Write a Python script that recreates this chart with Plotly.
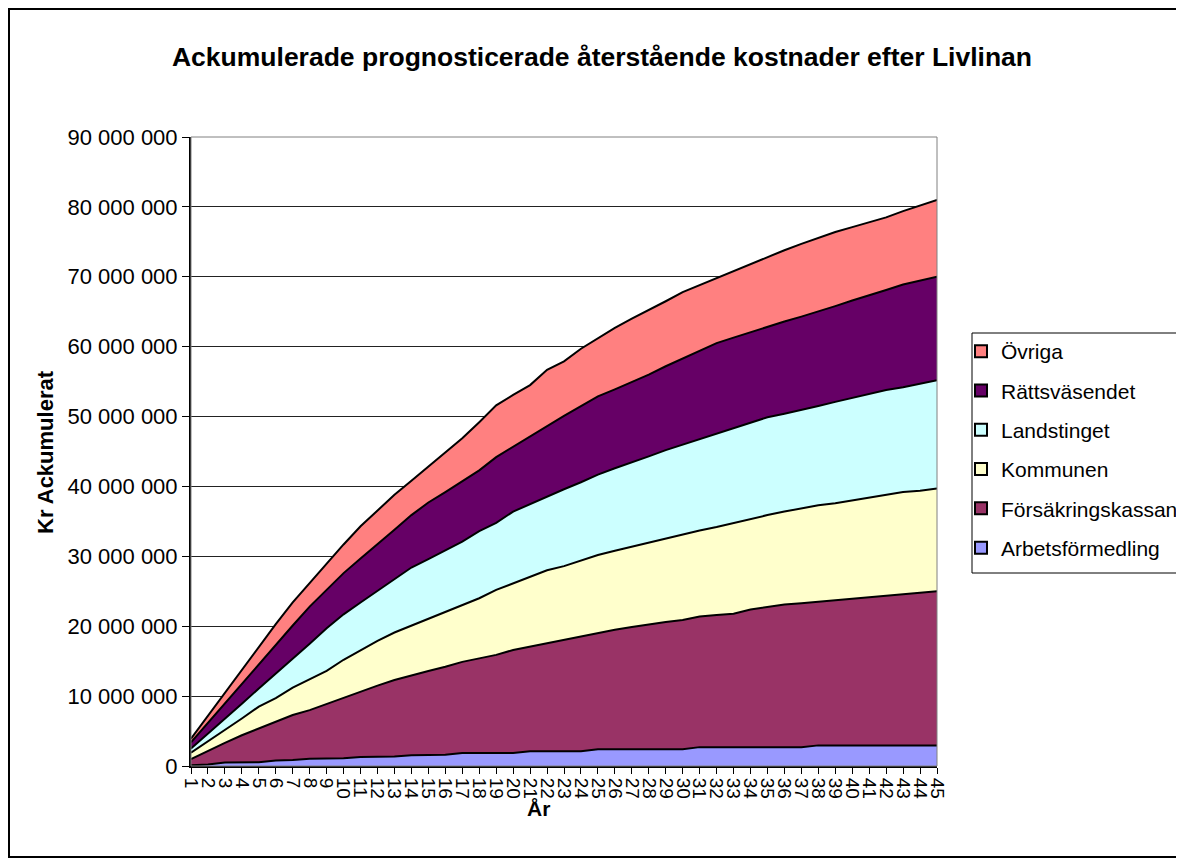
import plotly.graph_objects as go

# År 1..45, kostnader i miljoner kr (läst ur diagrammet, per kategori)
years = list(range(1, 46))

arbetsformedling = [0.1, 0.2, 0.5, 0.5, 0.55, 0.8, 0.85, 1.05, 1.1, 1.1,
                    1.3, 1.35, 1.35, 1.55, 1.6, 1.6, 1.85, 1.85, 1.85, 1.85,
                    2.1, 2.1, 2.1, 2.1, 2.4, 2.4, 2.4, 2.4, 2.4, 2.4,
                    2.7, 2.7, 2.7, 2.7, 2.7, 2.7, 2.7, 2.95, 2.95, 2.95,
                    2.95, 2.95, 2.95, 2.95, 2.95]
forsakringskassan = [0.9, 2.0, 2.8, 3.9, 4.85, 5.5, 6.45, 6.95, 7.8, 8.7,
                     9.4, 10.15, 10.95, 11.45, 12.0, 12.6, 13.05, 13.55, 14.05, 14.75,
                     15.0, 15.5, 15.9, 16.4, 16.6, 17.1, 17.5, 17.9, 18.2, 18.5,
                     18.7, 18.9, 19.1, 19.7, 20.1, 20.4, 20.6, 20.55, 20.75, 20.95,
                     21.25, 21.45, 21.65, 21.85, 22.05]
kommunen = [0.9, 1.3, 1.8, 2.4, 3.1, 3.4, 3.9, 4.4, 4.7, 5.4,
            5.9, 6.4, 6.8, 7.1, 7.4, 7.8, 8.1, 8.6, 9.3, 9.5,
            10.0, 10.4, 10.6, 10.9, 11.2, 11.3, 11.5, 11.6, 12.0, 12.3,
            12.3, 12.6, 13.0, 13.0, 13.1, 13.3, 13.6, 13.8, 13.9, 14.1,
            14.2, 14.4, 14.6, 14.6, 14.7]
landstinget = [0.6, 1.1, 1.7, 2.1, 2.6, 3.5, 4.2, 5.1, 6.1, 6.5,
               6.8, 7.2, 7.7, 8.3, 8.6, 8.8, 9.1, 9.6, 9.6, 10.3,
               10.4, 10.5, 11.0, 11.2, 11.5, 11.8, 12.0, 12.4, 12.6, 12.8,
               13.1, 13.4, 13.6, 13.7, 14.0, 14.0, 14.0, 14.2, 14.5, 14.7,
               14.8, 15.0, 15.0, 15.3, 15.5]
rattsvasendet = [0.9, 1.6, 2.2, 2.8, 3.4, 4.1, 4.7, 5.3, 5.5, 5.9,
                 6.3, 6.6, 7.0, 7.5, 8.1, 8.4, 8.6, 8.7, 9.4, 9.3,
                 9.7, 10.2, 10.5, 10.9, 11.2, 11.3, 11.5, 11.7, 12.0, 12.3,
                 12.6, 12.9, 12.9, 13.0, 12.9, 13.2, 13.4, 13.5, 13.7, 13.9,
                 14.1, 14.3, 14.7, 14.7, 14.8]
ovriga = [0.5, 1.0, 1.5, 2.0, 2.5, 3.0, 3.3, 3.4, 3.7, 4.1,
          4.6, 4.9, 5.0, 4.9, 5.1, 5.6, 6.2, 6.9, 7.4, 7.4,
          7.3, 8.0, 7.8, 8.2, 8.3, 8.8, 9.1, 9.2, 9.3, 9.5,
          9.4, 9.3, 9.6, 9.8, 10.0, 10.2, 10.4, 10.6, 10.6, 10.5,
          10.5, 10.4, 10.5, 10.8, 11.0]

series = [
    ("Arbetsförmedling", arbetsformedling, "#9999FF"),
    ("Försäkringskassan", forsakringskassan, "#993366"),
    ("Kommunen", kommunen, "#FFFFCC"),
    ("Landstinget", landstinget, "#CCFFFF"),
    ("Rättsväsendet", rattsvasendet, "#660066"),
    ("Övriga", ovriga, "#FF8080"),
]

FONT = "Liberation Sans, Arial, sans-serif"
OFF = 8                       # the page body margin shifts the div by 8 px
W, H = 1184 - OFF, 866 - OFF
PX0, PX1, PY0, PY1 = 191, 937, 137, 766   # plot area in page pixels
L, T = PX0 - OFF, PY0 - OFF
R, B = W - (PX1 - OFF), H - (PY1 - OFF)


def px_x(px):
    return (px - PX0) / (PX1 - PX0)


def px_y(py):
    return (PY1 - py) / (PY1 - PY0)


fig = go.Figure()

for name, vals, color in series:
    fig.add_trace(go.Scatter(
        x=years, y=[v * 1e6 for v in vals], name=name,
        stackgroup="one", mode="lines",
        line=dict(color="black", width=2), fillcolor=color,
        showlegend=False, hoverinfo="x+y+name",
    ))

# legend entries as small squares, top to bottom like Excel
for name, vals, color in reversed(series):
    fig.add_trace(go.Scatter(
        x=[None], y=[None], name=name, mode="markers", legendgroup=name,
        marker=dict(symbol="square", size=11, color=color,
                    line=dict(color="black", width=1)),
    ))

fig.update_layout(
    width=W, height=H,
    margin=dict(l=L, r=R, t=T, b=B, autoexpand=False),
    paper_bgcolor="white", plot_bgcolor="white",
    separators=", ",
    font=dict(family=FONT, color="black"),
    showlegend=True,
    legend=dict(
        xref="container", yref="container",
        x=(961 - OFF) / W, y=1 - (331 - OFF) / H, xanchor="left", yanchor="top",
        bgcolor="rgba(0,0,0,0)", borderwidth=0,
        font=dict(size=21, family=FONT), tracegroupgap=9,
        traceorder="grouped", itemsizing="constant", itemwidth=30,
    ),
    title=dict(
        text="<b>Ackumulerade prognosticerade återstående kostnader efter Livlinan</b>",
        xref="paper", x=px_x(602), xanchor="center",
        yref="container", y=1 - (57 - OFF) / H, yanchor="middle",
        font=dict(size=26.5, family=FONT),
    ),
)

fig.update_xaxes(
    range=[1, 45], tickmode="array", tickvals=years, ticktext=[str(y) for y in years],
    tickangle=90, ticks="outside", ticklen=6, tickcolor="black",
    tickfont=dict(size=19, family=FONT),
    showline=True, linecolor="black", linewidth=2,
    showgrid=False, zeroline=False, automargin=False,
)
fig.update_yaxes(
    range=[0, 90e6], dtick=10e6, tickformat=",d",
    ticks="outside", ticklen=7, tickcolor="black",
    tickfont=dict(size=22, family=FONT),
    showline=True, linecolor="black", linewidth=2,
    showgrid=True, gridcolor="#222222", gridwidth=1, zeroline=False,
    automargin=False,
)

# axis titles
fig.add_annotation(text="<b>Kr Ackumulerat</b>", xref="paper", yref="paper",
                   x=px_x(45), y=px_y(452), xanchor="center", yanchor="middle",
                   textangle=-90, showarrow=False,
                   font=dict(size=22, family=FONT))
fig.add_annotation(text="<b>År</b>", xref="paper", yref="paper",
                   x=px_x(538), y=px_y(808), xanchor="center", yanchor="middle",
                   showarrow=False, font=dict(size=21, family=FONT))

# plot area border (grey top/right), legend box and outer chart frame
fig.add_shape(type="rect", xref="paper", yref="paper", x0=0, y0=0, x1=1, y1=1,
              line=dict(color="#808080", width=1), layer="above")
fig.add_shape(type="rect", xref="paper", yref="paper",
              x0=px_x(972), y0=px_y(573), x1=px_x(1200), y1=px_y(333),
              line=dict(color="black", width=1), fillcolor="white", layer="above")
fig.add_shape(type="rect", xref="paper", yref="paper",
              x0=px_x(9), y0=px_y(857), x1=px_x(1200), y1=px_y(9),
              line=dict(color="black", width=2), layer="above")

fig.write_html("out.html")
